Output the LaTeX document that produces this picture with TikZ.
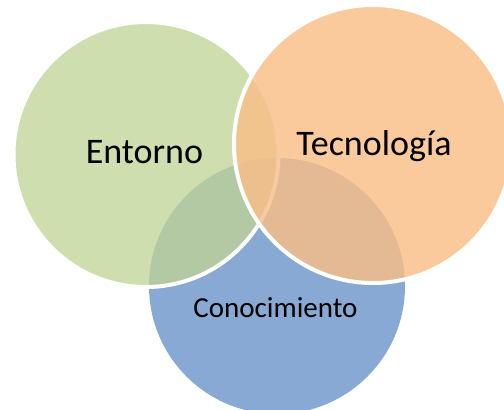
\documentclass[tikz,border=0pt]{standalone}
\usepackage{fontspec}
\setmainfont{Carlito}
\definecolor{bluefill}{RGB}{136,169,211}
\definecolor{greenfill}{RGB}{192,212,148}
\definecolor{orangefill}{RGB}{249,190,136}
\begin{document}
\begin{tikzpicture}[x=1pt,y=-1pt,
  venn/.style={circle,inner sep=0pt,draw=white,line width=4pt},
  lbl/.style={inner sep=0pt,anchor=base,text=black}]
\useasboundingbox (0,0) rectangle (504,410);
\clip (0,0) rectangle (504,410);
\node[circle,inner sep=0pt,fill=bluefill,minimum size=256pt] (blue) at (277,286) {};
\node[venn,fill=greenfill,fill opacity=0.76,minimum size=265pt] (green) at (146,154.5) {};
\node[venn,fill=orangefill,fill opacity=0.82,minimum size=278pt] (orange) at (373,144) {};
\node[lbl,font=\fontsize{36}{40}\selectfont] (t1) at (144.5,163) {Entorno};
\node[lbl,font=\fontsize{36}{40}\selectfont] (t2) at (374,155) {Tecnología};
\node[lbl,font=\fontsize{29}{32}\selectfont] (t3) at (275.5,317) {Conocimiento};
\end{tikzpicture}
\end{document}
